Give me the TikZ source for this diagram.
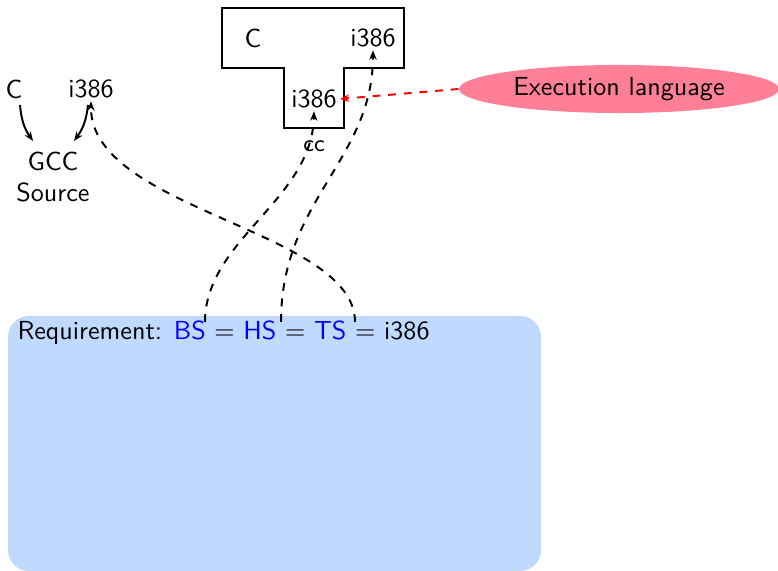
\documentclass[tikz,border=0pt]{standalone}
\usetikzlibrary{shapes.geometric,arrows.meta}
\renewcommand{\familydefault}{\sfdefault}
\definecolor{reqblue}{RGB}{192,218,255}
\definecolor{execpink}{RGB}{255,128,150}
\begin{document}
\begin{tikzpicture}[x=0.383pt,y=-0.383pt,font=\sffamily,
  lbl/.style={inner sep=0pt,anchor=center},
  tip/.style={-{Stealth[length=3.6pt,width=2.8pt]}},
  link/.style={tip,dashed,line width=0.75pt},
  tbox/.style={draw,line width=0.8pt}]
\useasboundingbox (0,0) rectangle (778,571);
% requirement box
\fill[reqblue,rounded corners=8pt] (8,316) rectangle (541,571);
\node[anchor=west,inner sep=0pt] (req) at (17,333)
  {Requirement: \textcolor{blue}{BS} $=$ \textcolor{blue}{HS} $=$ \textcolor{blue}{TS} $=$ i386};
\coordinate (bs) at (205,322);
\coordinate (hs) at (281,322);
\coordinate (ts) at (355,322);
% T diagram
\draw[tbox] (222,8) -- (404,8) -- (404,68) -- (344,68) -- (344,128) -- (284,128) -- (284,68) -- (222,68) -- cycle;
\node[lbl] (tc) at (253,38) {C};
\node[lbl] (tr) at (373,38) {i386};
\node[lbl] (tm) at (314,99) {i386};
\node[lbl,font=\sffamily\small] (cc) at (314,146) {cc};
% left
\node[lbl] (lc) at (14,89) {C};
\node[lbl] (li) at (91,89) {i386};
\node[lbl,align=center] (gcc) at (53,177) {GCC\\Source};
\draw[tip,line width=0.75pt] (20,105) to[bend right=15] (33,141);
\draw[tip,line width=0.75pt] (88,105) to[bend left=15] (74,141);
% execution language
\node[ellipse,fill=execpink,minimum width=122.6pt,minimum height=18.4pt,inner sep=0pt] (exec) at (619,89) {Execution language};
\draw[link,red] (exec.west) -- ([xshift=1pt]tm.east);
% dashed links
\draw[link] (bs) .. controls (205,240) and (312,200) .. ([yshift=-1pt]tm.south);
\draw[link] (hs) .. controls (281,200) and (373,160) .. ([yshift=-1pt]tr.south);
\draw[link] (ts) .. controls (355,230) and (90,210) .. ([yshift=-1pt]li.south);
\end{tikzpicture}
\end{document}
